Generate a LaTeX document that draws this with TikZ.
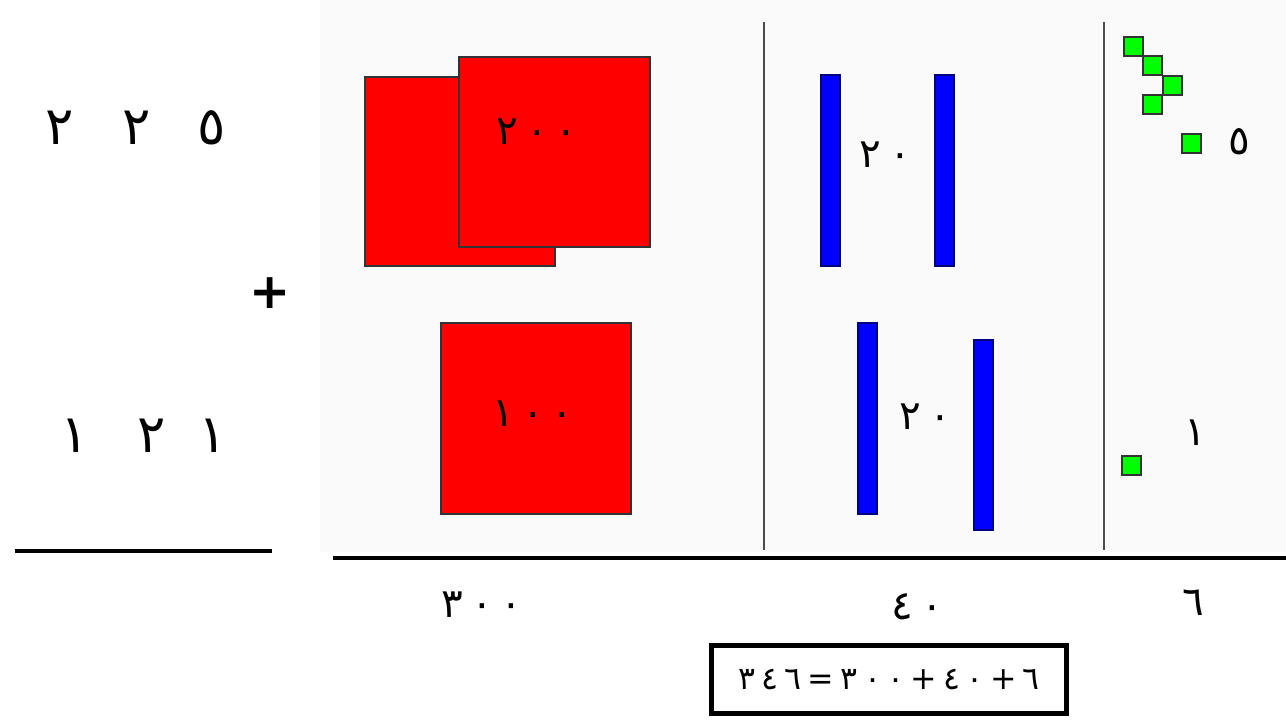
\documentclass[tikz,border=0pt]{standalone}
\usepackage{fontspec}
\newfontfamily\arabicfont[Script=Arabic]{DejaVu Sans}
\newfontfamily\arabicwide[Script=Arabic, LetterSpace=20]{DejaVu Sans}
\usetikzlibrary{positioning}

\begin{document}
\begin{tikzpicture}[x=0.2mm, y=-0.2mm,
    every node/.style={inner sep=0pt, font=\arabicwide\fontsize{23}{26}\selectfont},
    digit/.style={font=\arabicfont\fontsize{30}{34}\selectfont},
    hundred/.style={fill=red, draw=black!80, line width=0.8pt},
    tenbar/.style={fill=blue, draw=blue!50!black, line width=0.6pt},
    unitsq/.style={fill=green, draw=black!80, line width=0.8pt},
    colsep/.style={draw=black!70, line width=1.1pt}]
  \useasboundingbox (0,0) rectangle (1286,719);

  % Column panel and separators
  \fill[black!2] (320,0) rectangle (1286,552);
  \draw[colsep] (764,22) -- (764,550);
  \draw[colsep] (1104,22) -- (1104,550);
  \draw[line width=2.8pt] (333,558) -- (1286,558);

  % Written sum on the left
  \node[digit] (a2) at (60,128) {٢};
  \node[digit] (a1) at (137,128) {٢};
  \node[digit] (a0) at (212,128) {٥};
  \node[digit, font=\arabicfont\bfseries\fontsize{28}{34}\selectfont] (plus) at (270,293) {+};
  \node[digit] (b2) at (75,436) {١};
  \node[digit] (b1) at (152,436) {٢};
  \node[digit] (b0) at (213,436) {١};
  \draw[line width=2.3pt] (15,551) -- (272,551);

  % Hundreds
  \draw[hundred] (365,77) rectangle (555,266);
  \draw[hundred] (459,57) rectangle (650,247);
  \draw[hundred] (441,323) rectangle (631,514);
  \node (h225) at (537,132) {٢٠٠};
  \node (h121) at (533,414) {١٠٠};

  % Tens
  \draw[tenbar] (821,75) rectangle (840,266);
  \draw[tenbar] (935,75) rectangle (954,266);
  \draw[tenbar] (858,323) rectangle (877,514);
  \draw[tenbar] (974,340) rectangle (993,530);
  \node (t225) at (885,155) {٢٠};
  \node (t121) at (925,417) {٢٠};

  % Units
  \foreach \x/\y in {1124/37, 1143/56, 1163/76, 1143/95, 1182/134, 1122/456}
    \draw[unitsq] (\x,\y) rectangle ++(19,19);
  \node (u225) at (1239,142) {٥};
  \node (u121) at (1195,433) {١};

  % Column totals
  \node (c2) at (482,605) {٣٠٠};
  \node (c1) at (917,607) {٤٠};
  \node (c0) at (1193,603) {٦};
  \node[draw, line width=2.8pt, minimum width=71mm, minimum height=13.6mm,
        font=\arabicwide\fontsize{18}{22}\selectfont] (sum) at (889,679.5)
    {٦+٤٠+٣٠٠=٣٤٦};
\end{tikzpicture}
\end{document}
